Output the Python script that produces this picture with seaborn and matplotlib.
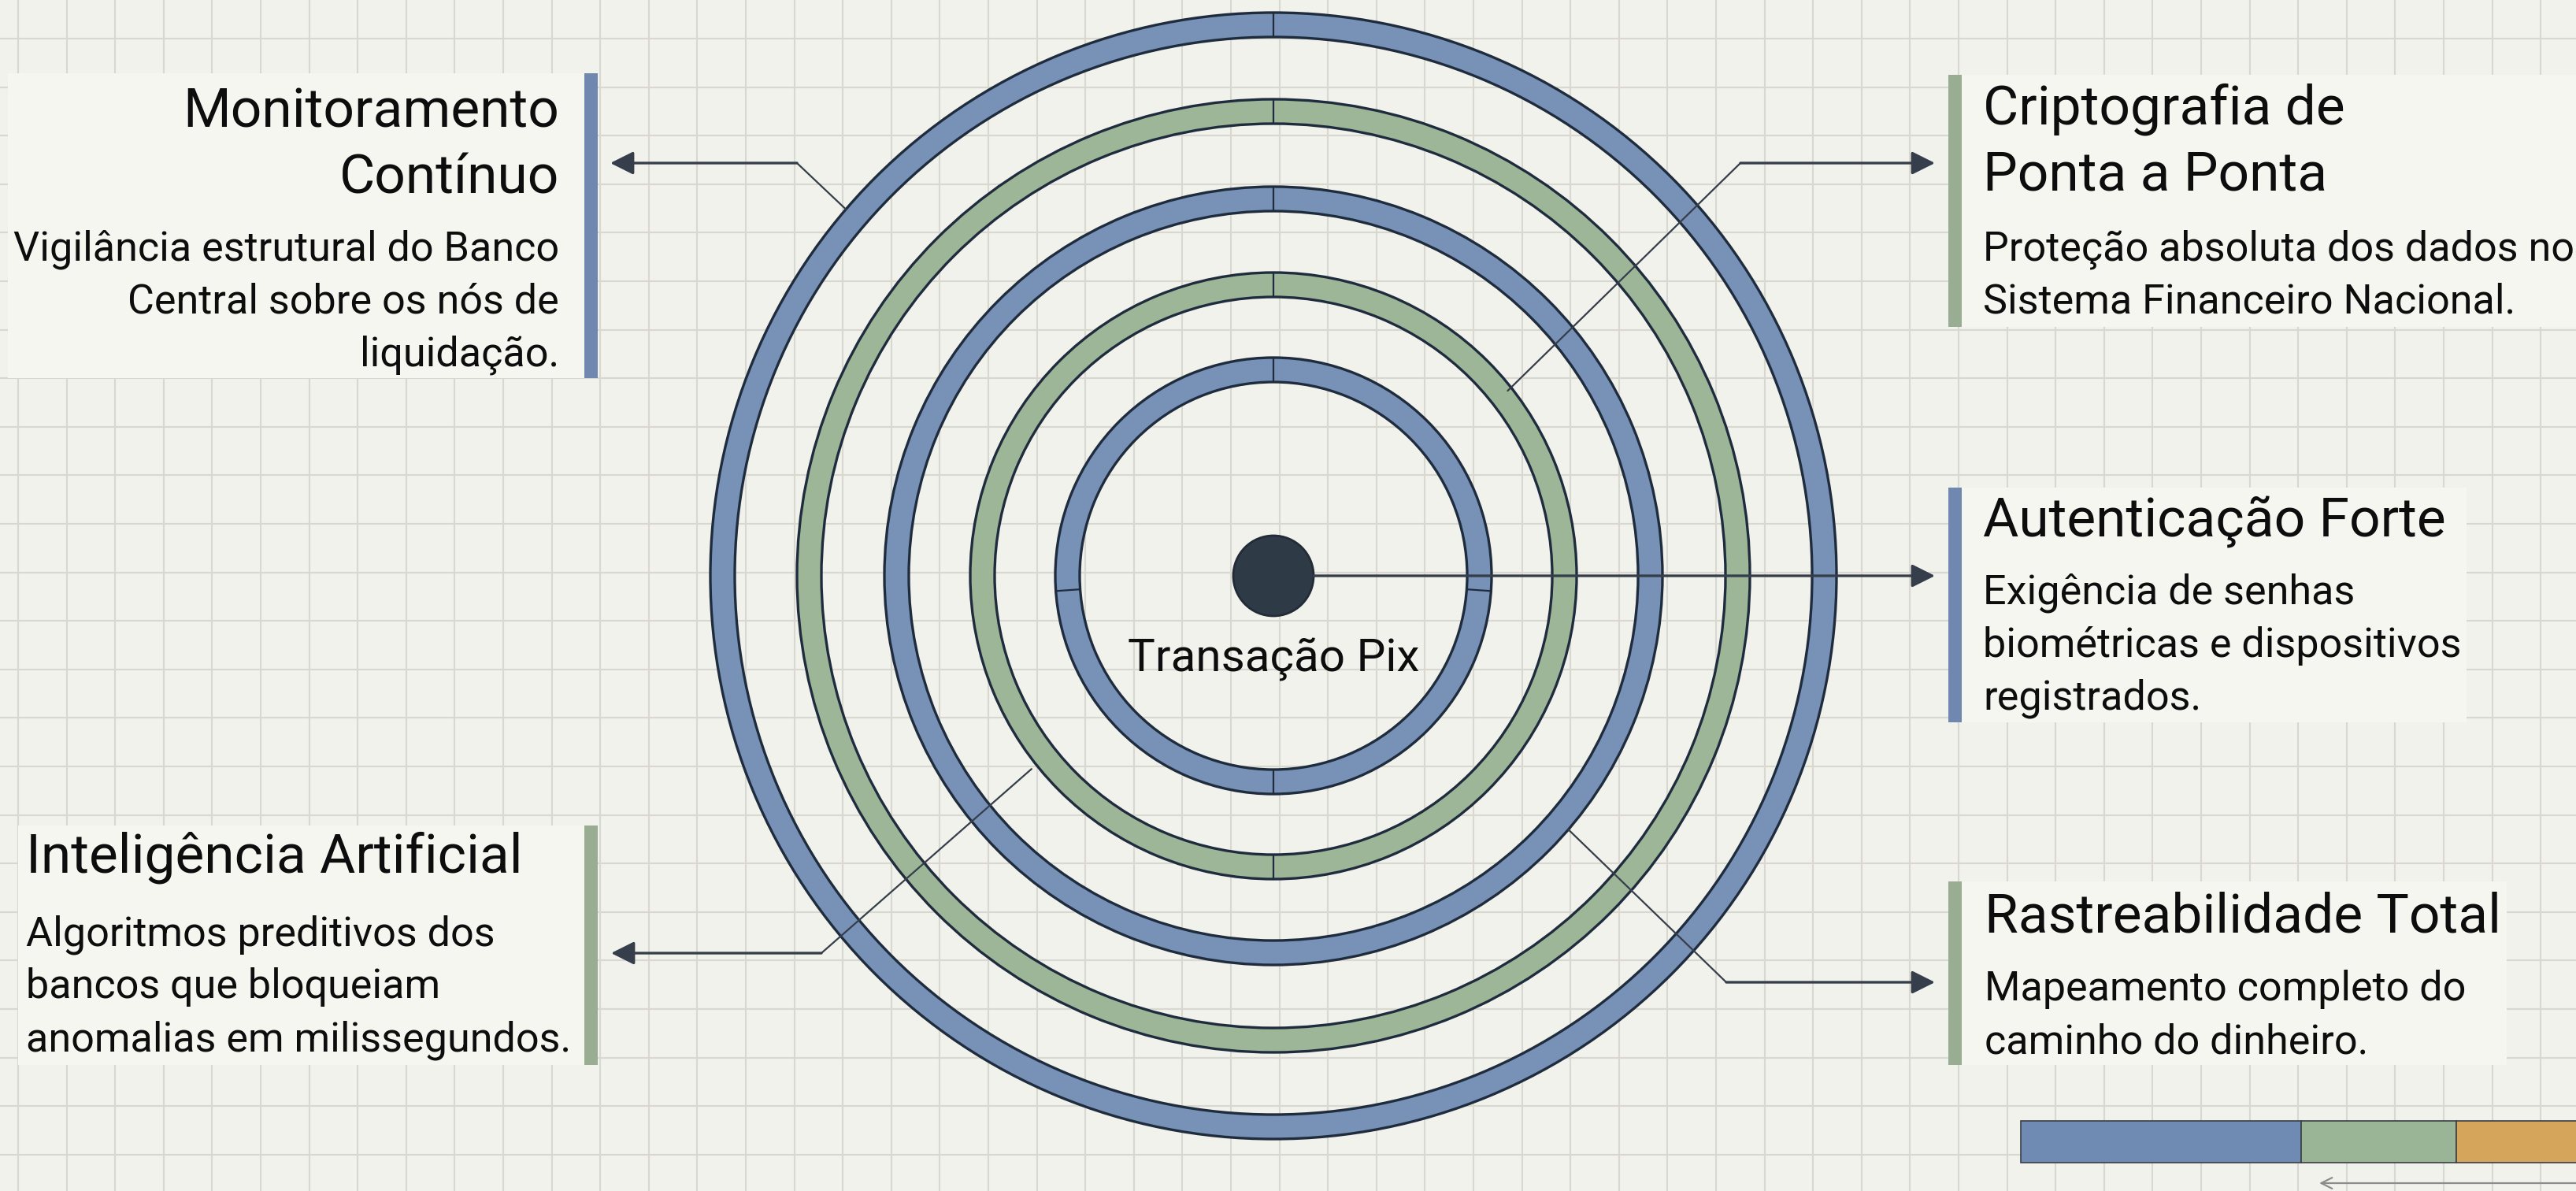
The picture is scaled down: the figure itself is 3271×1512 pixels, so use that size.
import numpy as np
import matplotlib
matplotlib.use("Agg")
import matplotlib.pyplot as plt
import seaborn as sns
from matplotlib.patches import Annulus, Circle, Rectangle

# ---- content ----
center_label = "Transação Pix"

titles = [
    ["Monitoramento", "Contínuo"],
    ["Criptografia de", "Ponta a Ponta"],
    ["Autenticação Forte"],
    ["Rastreabilidade Total"],
    ["Inteligência Artificial"],
]
descriptions = [
    ["Vigilância estrutural do Banco", "Central sobre os nós de", "liquidação."],
    ["Proteção absoluta dos dados no", "Sistema Financeiro Nacional."],
    ["Exigência de senhas", "biométricas e dispositivos", "registrados."],
    ["Mapeamento completo do", "caminho do dinheiro."],
    ["Algoritmos preditivos dos", "bancos que bloqueiam", "anomalias em milissegundos."],
]
accent = ["blue", "green", "blue", "green", "green"]

# stacked bar bottom right
seg_values = [45, 25, 30]
seg_colors = ["#6f8bb4", "#9ab596", "#d4a55b"]

# ---- style ----
sns.set_theme(style="white")
plt.rcParams["font.family"] = ["Roboto", "DejaVu Sans"]

BG = "#f2f2ec"
BOX = "#f6f6f1"
GRID = "#d8d8d0"
EDGE = "#1f2c3d"
LINE = "#353e4a"
TXT = "#0d0d0d"
fill = {"blue": "#7891b6", "green": "#9eb698"}
bar_col = {"blue": "#7088b0", "green": "#98ad92"}

W, H = 3271, 1512
fig = plt.figure(figsize=(W / 100, H / 100), dpi=100, facecolor=BG)
ax = fig.add_axes([0, 0, 1, 1])
ax.set_xlim(0, W)
ax.set_ylim(H, 0)
ax.axis("off")
ax.set_facecolor(BG)

# grid paper
step = 61.6
ax.vlines(np.arange(23, W, step), 0, H, color=GRID, lw=1.5, zorder=0)
ax.hlines(np.arange(49, H, step), 0, W, color=GRID, lw=1.5, zorder=0)

# rings
cx, cy = 1617, 731
ring_r = [715, 605, 494, 385, 277]      # outer edge
ring_w = 31
ring_kind = ["blue", "green", "blue", "green", "blue"]
dividers = [[90], [90], [90], [90, 270], [90, 270, 184, -4]]

for r, kind, divs in zip(ring_r, ring_kind, dividers):
    ax.add_patch(Annulus((cx, cy), r, ring_w, facecolor=fill[kind],
                         edgecolor=EDGE, lw=2.4, zorder=2))
    for a in divs:
        t = np.deg2rad(a)
        ax.plot([cx + (r - ring_w) * np.cos(t), cx + r * np.cos(t)],
                [cy - (r - ring_w) * np.sin(t), cy - r * np.sin(t)],
                color=EDGE, lw=1.6, zorder=3)

ax.add_patch(Circle((cx, cy), 51, facecolor="#2f3a47", edgecolor="#222b36",
                    lw=2, zorder=5))
ax.text(cx, 852, center_label, ha="center", va="baseline", fontsize=42,
        color=TXT, zorder=5)

# text blocks: (text x, align, title baseline, body baseline, bar x, bar y0, y1, box x0, x1)
layout = [
    (710, "right", 162, 330, 750, 93, 480, 10, 742),
    (2518, "left", 158, 330, 2482, 95, 415, 2490, 3271),
    (2518, "left", 682, 767, 2482, 619, 917, 2490, 3132),
    (2520, "left", 1184, 1270, 2482, 1119, 1352, 2490, 3183),
    (33, "left", 1108, 1200, 750, 1048, 1352, 23, 742),
]

for (tx, ha, tb, bb, bx, by0, by1, x0, x1), tl, dl, kind in zip(
        layout, titles, descriptions, accent):
    ax.add_patch(Rectangle((x0, by0), x1 - x0, by1 - by0, facecolor=BOX,
                           edgecolor="none", zorder=1))
    ax.add_patch(Rectangle((bx - 8.5, by0), 17, by1 - by0,
                           facecolor=bar_col[kind], edgecolor="none", zorder=4))
    for i, line in enumerate(tl):
        ax.text(tx, tb + i * 84, line, ha=ha, va="baseline", fontsize=50,
                color=TXT, zorder=6)
    for i, line in enumerate(dl):
        ax.text(tx, bb + i * 67, line, ha=ha, va="baseline", fontsize=37.5,
                color=TXT, zorder=6)

# connectors: start on ring (radius, angle), elbow point, tip x
connectors = [
    (715, 139.4, (1012, 207), 775),
    (379, 38.3, (2210, 207), 2457),
    (51, 0.0, None, 2457),
    (494, -40.7, (2192, 1247), 2457),
    (393, 218.6, (1043, 1210), 776),
]
for r, a, elbow, tip in connectors:
    t = np.deg2rad(a)
    sx, sy = cx + r * np.cos(t), cy - r * np.sin(t)
    if elbow is None:
        ex, ey = sx, sy
    else:
        ex, ey = elbow
        ax.plot([sx, ex], [sy, ey], color=LINE, lw=1.6, zorder=7,
                solid_capstyle="round")
    ax.annotate("", xy=(tip, ey), xytext=(ex, ey),
                arrowprops=dict(arrowstyle="-|>,head_length=0.4,head_width=0.2",
                                mutation_scale=45, color=LINE, lw=2.4,
                                shrinkA=0, shrinkB=0), zorder=7)

# stacked bar bottom right
px_per_unit = 7.9
left = 2566
for v, c in zip(seg_values, seg_colors):
    ax.barh(1449, v * px_per_unit, left=left, height=53, color=c,
            edgecolor="#3a3f45", lw=1.2, zorder=4)
    left += v * px_per_unit

ax.annotate("", xy=(2945, 1502), xytext=(W + 5, 1502),
            arrowprops=dict(arrowstyle="->,head_length=0.5,head_width=0.25",
                            mutation_scale=20, color="#8c8c8c", lw=1.6,
                            shrinkA=0, shrinkB=0), zorder=4)

fig.savefig("out.png", dpi=100, facecolor=BG)
